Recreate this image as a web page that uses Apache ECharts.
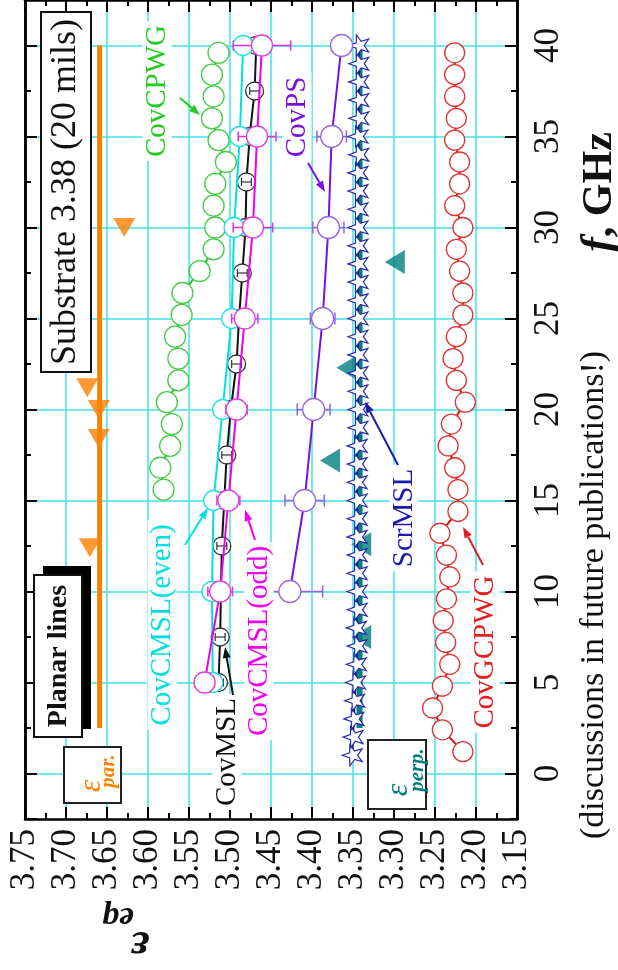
<!DOCTYPE html>
<html>
<head>
<meta charset="utf-8">
<script src="https://cdn.jsdelivr.net/npm/echarts@6/dist/echarts.min.js"></script>
<style>
  html, body { margin: 0; padding: 0; background: #fff; }
  #chart { width: 618px; height: 970px; }
</style>
</head>
<body>
<div id="chart"></div>
<script>
var FONT = '"Liberation Serif", "Times New Roman", serif';
var GRID = '#3fe2e8';

// 坐标范围
var epsRange = [3.15, 3.75];
var fRange = [-2.5, 42.5];

// eps_par (橙色)
var parLineF = [2.5, 40];
var parLineEps = [3.659, 3.659];
var parTriF = [12.4, 18.4, 20.0, 21.2, 30.0];
var parTriEps = [3.671, 3.660, 3.660, 3.674, 3.629];

// eps_perp (青绿色)
var perpLineF = [2.5, 40];
var perpLineEps = [3.342, 3.342];
var perpTriF = [7.5, 12.6, 17.2, 22.3, 28.1];
var perpTriEps = [3.340, 3.340, 3.378, 3.358, 3.299];

// ScrMSL
var scrF = [1, 2, 3, 4, 5, 6, 7, 8, 9, 10, 11, 12, 13, 14, 15, 16, 17, 18, 19, 20,
            21, 22, 23, 24, 25, 26, 27, 28, 29, 30, 31, 32, 33, 34, 35, 36, 37, 38, 39, 40];
var scrEps = [3.351, 3.350, 3.349, 3.348, 3.347, 3.346, 3.345, 3.346, 3.345, 3.345,
              3.345, 3.345, 3.345, 3.345, 3.345, 3.345, 3.345, 3.345, 3.344, 3.344,
              3.344, 3.344, 3.344, 3.344, 3.344, 3.344, 3.344, 3.344, 3.344, 3.344,
              3.344, 3.344, 3.344, 3.343, 3.344, 3.343, 3.343, 3.343, 3.343, 3.343];

// CovGCPWG (红)
var gcpwgF = [1.2, 2.4, 3.6, 4.8, 6.0, 7.2, 8.4, 9.6, 10.8, 12.0, 13.2, 14.4, 15.6, 16.8, 18.0, 19.2, 20.4,
              21.6, 22.8, 24.0, 25.2, 26.4, 27.6, 28.8, 30.0, 31.2, 32.4, 33.6, 34.8, 36.0, 37.2, 38.4, 39.6];
var gcpwgEps = [3.216, 3.241, 3.253, 3.241, 3.232, 3.237, 3.240, 3.236, 3.232, 3.236, 3.244, 3.222, 3.222,
                3.226, 3.234, 3.230, 3.213, 3.224, 3.228, 3.224, 3.216, 3.216, 3.220, 3.224, 3.216, 3.226,
                3.220, 3.220, 3.226, 3.224, 3.226, 3.226, 3.226];

// CovCPWG (绿)
var cpwgF = [15.6, 16.8, 18.0, 19.2, 20.4, 21.6, 22.8, 24.0, 25.2, 26.4, 27.6,
             28.8, 30.0, 31.2, 32.4, 33.6, 34.8, 36.0, 37.2, 38.4, 39.6];
var cpwgEps = [3.581, 3.585, 3.573, 3.571, 3.577, 3.563, 3.563, 3.567, 3.559, 3.558, 3.537,
               3.520, 3.518, 3.520, 3.518, 3.505, 3.514, 3.522, 3.520, 3.522, 3.514];

// CovMSL (黑)
var mslF = [5, 7.5, 10, 12.5, 15, 17.5, 20, 22.5, 25, 27.5, 30, 32.5, 35, 37.5, 40];
var mslEps = [3.514, 3.512, 3.511, 3.510, 3.507, 3.504, 3.499, 3.492, 3.489, 3.485, 3.481, 3.480, 3.476, 3.470, 3.468];
var mslErr = [0.006, 0.006, 0.006, 0.006, 0.006, 0.006, 0.006, 0.006, 0.006, 0.006, 0.006, 0.006, 0.006, 0.006, 0.006];

// CovCMSL(even) / CovCMSL(odd)
var cmslF = [5, 10, 15, 20, 25, 30, 35, 40];
var evenEps = [3.521, 3.522, 3.520, 3.509, 3.498, 3.495, 3.488, 3.484];
var oddEps = [3.531, 3.512, 3.502, 3.492, 3.482, 3.472, 3.467, 3.461];
var oddErr = [0.012, 0.015, 0.014, 0.013, 0.016, 0.024, 0.023, 0.035];

// CovPS (紫)
var psF = [10, 15, 20, 25, 30, 35, 40];
var psEps = [3.427, 3.409, 3.398, 3.387, 3.380, 3.376, 3.364];
var psErr = [0.040, 0.024, 0.020, 0.015, 0.019, 0.018, 0.012];

function pairs(xs, ys) {
    return xs.map(function (x, i) { return [x, ys[i]]; });
}

// 五角星路径
var starPath = (function () {
    var pts = [];
    for (var i = 0; i < 10; i++) {
        var r = i % 2 === 0 ? 1 : 0.4;
        var a = -Math.PI / 2 + i * Math.PI / 5;
        pts.push((r * Math.cos(a)).toFixed(3) + ',' + (r * Math.sin(a)).toFixed(3));
    }
    return 'path://M' + pts.join(' L') + ' Z';
})();

// 水平误差线
function errSeries(eps, err, f, color, z, cap, width) {
    return {
        type: 'custom',
        z: z,
        silent: true,
        data: f.map(function (v, i) { return [eps[i] - err[i], eps[i] + err[i], v]; }),
        encode: { x: [0, 1], y: 2 },
        renderItem: function (params, api) {
            var a = api.coord([api.value(0), api.value(2)]);
            var b = api.coord([api.value(1), api.value(2)]);
            var st = { stroke: color, lineWidth: width };
            return {
                type: 'group',
                children: [
                    { type: 'line', shape: { x1: a[0], y1: a[1], x2: b[0], y2: b[1] }, style: st },
                    { type: 'line', shape: { x1: a[0], y1: a[1] - cap, x2: a[0], y2: a[1] + cap }, style: st },
                    { type: 'line', shape: { x1: b[0], y1: b[1] - cap, x2: b[0], y2: b[1] + cap }, style: st }
                ]
            };
        }
    };
}

function lineSeries(name, xs, ys, color, border, size, width, z) {
    return {
        name: name,
        type: 'line',
        z: z,
        data: pairs(xs, ys),
        symbol: 'circle',
        symbolSize: size,
        showSymbol: true,
        lineStyle: { color: color, width: width },
        itemStyle: { color: '#fff', borderColor: border, borderWidth: 1.3 },
        animation: false
    };
}

// 旋转文字
function vtext(x, y, str, size, color, opt) {
    opt = opt || {};
    return {
        type: 'text', x: x, y: y, z: 100,
        rotation: opt.rot == null ? Math.PI / 2 : opt.rot,
        style: {
            text: str, fill: color, fontFamily: FONT, fontSize: size,
            fontWeight: opt.bold ? 'bold' : 'normal',
            fontStyle: opt.italic ? 'italic' : 'normal',
            align: 'center', verticalAlign: 'middle',
            backgroundColor: opt.bg, padding: opt.bg ? [0, 4] : 0
        }
    };
}

function arrow(x1, y1, x2, y2, color) {
    var ang = Math.atan2(y2 - y1, x2 - x1), L = 11, W = 4;
    var bx = x2 - L * Math.cos(ang), by = y2 - L * Math.sin(ang);
    return [
        { type: 'line', z: 101, shape: { x1: x1, y1: y1, x2: bx, y2: by }, style: { stroke: color, lineWidth: 2 } },
        { type: 'polygon', z: 101, shape: { points: [[x2, y2],
            [bx - W * Math.sin(ang), by + W * Math.cos(ang)],
            [bx + W * Math.sin(ang), by - W * Math.cos(ang)]] }, style: { fill: color } }
    ];
}

function box(x, y, w, h, fill, stroke) {
    return { type: 'rect', z: 99, shape: { x: x, y: y, width: w, height: h },
             style: { fill: fill, stroke: stroke, lineWidth: stroke ? 2 : 0 } };
}

var axisLineStyle = { color: '#000', width: 2.5 };
var tickStyle = { color: '#000', width: 2 };

function yAxisDef(pos, major, labels) {
    var a = {
        type: 'value', position: pos, min: fRange[0], max: fRange[1],
        axisLine: { show: true, onZero: false, lineStyle: axisLineStyle },
        axisTick: { show: true, inside: true, length: major ? 12 : 6, lineStyle: tickStyle },
        axisLabel: { show: false },
        splitLine: { show: false }
    };
    if (major) { a.splitNumber = 9; } else { a.interval = 2.5; }
    if (labels) {
        a.axisLabel = {
            show: true, rotate: 90, fontSize: 35, fontFamily: FONT, color: '#111', margin: 14,
            showMinLabel: false, showMaxLabel: false,
            formatter: function (v) { return v % 5 === 0 ? String(v) : ''; }
        };
        a.splitLine = { show: true, showMinLine: false, showMaxLine: false, lineStyle: { color: GRID, width: 1.5 } };
    }
    return a;
}

function xAxisDef(pos, labels) {
    return {
        type: 'value', position: pos, inverse: true,
        min: epsRange[0], max: epsRange[1], interval: 0.05,
        axisLine: { show: true, onZero: false, lineStyle: axisLineStyle },
        axisTick: { show: true, inside: true, length: 12, lineStyle: tickStyle },
        minorTick: { show: true, splitNumber: 2, length: 6, lineStyle: tickStyle },
        axisLabel: labels ? {
            show: true, rotate: 90, fontSize: 35, fontFamily: FONT, color: '#111', margin: 10,
            formatter: function (v) { return v.toFixed(2); }
        } : { show: false },
        splitLine: { show: labels, lineStyle: { color: GRID, width: 1.5 } }
    };
}

var graphics = [
    box(41, 12, 50, 360, '#fff', '#111'),
    vtext(66, 192, 'Substrate 3.38 (20 mils)', 36, '#111'),
    box(43, 566, 48, 163, '#000', null),
    box(34, 575, 48, 162, '#fff', '#111'),
    vtext(59, 656, 'Planar lines', 28, '#111', { bold: true }),
    box(64, 747, 57, 56, '#fff', '#222'),
    vtext(92, 786, 'ε', 32, '#ff8000', { italic: true }),
    vtext(109, 771, 'par.', 21, '#ff8000', { italic: true, bold: true }),
    box(368, 740, 58, 69, '#fff', '#222'),
    vtext(399, 790, 'ε', 32, '#007f7f', { italic: true }),
    vtext(418, 770, 'perp.', 21, '#007f7f', { italic: true, bold: true }),

    vtext(157, 91, 'CovCPWG', 29, '#22cc22', { bg: '#fff' }),
    vtext(297, 117, 'CovPS', 29, '#7a10e0', { bg: '#fff' }),
    vtext(162, 625, 'CovCMSL(even)', 29, '#00e0e0', { bg: '#fff' }),
    vtext(259, 641, 'CovCMSL(odd)', 29, '#ee00ee', { bg: '#fff' }),
    vtext(227, 752, 'CovMSL', 29, '#111', { bg: '#fff' }),
    vtext(404, 518, 'ScrMSL', 29, '#1a1aaa', { bg: '#fff' }),
    vtext(485, 652, 'CovGCPWG', 29, '#e02020', { bg: '#fff' }),

    vtext(140, 944, 'ε', 46, '#111', { rot: Math.PI, bold: true, italic: true }),
    vtext(118, 917, 'eq', 34, '#111', { rot: Math.PI, bold: true, italic: true }),
    vtext(594, 595, '(discussions in future publications!)', 34, '#111'),
    {
        type: 'text', x: 600, y: 192, z: 100, rotation: Math.PI / 2,
        style: {
            text: '{i|f}{n|, GHz}', align: 'center', verticalAlign: 'middle',
            rich: {
                i: { fontFamily: FONT, fontSize: 44, fontWeight: 'bold', fontStyle: 'italic', fill: '#111' },
                n: { fontFamily: FONT, fontSize: 42, fontWeight: 'bold', fill: '#111' }
            }
        }
    }
];
graphics = graphics
    .concat(arrow(180, 98, 200, 115, '#22cc22'))
    .concat(arrow(308, 163, 325, 192, '#7a10e0'))
    .concat(arrow(185, 545, 208, 508, '#00e0e0'))
    .concat(arrow(255, 540, 245, 510, '#ee00ee'))
    .concat(arrow(233, 695, 225, 647, '#111'))
    .concat(arrow(398, 465, 365, 402, '#1a1aaa'))
    .concat(arrow(483, 565, 463, 527, '#e02020'));

var myChart = echarts.init(document.getElementById('chart'));
var option = {
    animation: false,
    grid: { left: 25, right: 101, top: -2, bottom: 151 },
    xAxis: [xAxisDef('bottom', true), xAxisDef('top', false)],
    yAxis: [yAxisDef('right', true, true), yAxisDef('left', true, false),
            yAxisDef('right', false, false), yAxisDef('left', false, false)],
    graphic: { elements: graphics },
    series: [
        {   // eps_par 线
            type: 'line', z: 2, data: pairs(parLineEps, parLineF), symbol: 'none',
            lineStyle: { color: '#ff8000', width: 5 }
        },
        {
            type: 'scatter', z: 3, data: pairs(parTriEps, parTriF), symbol: 'triangle',
            symbolRotate: 180, symbolSize: [22, 19], itemStyle: { color: '#ff8000' }
        },
        {   // eps_perp 线
            type: 'line', z: 2, data: pairs(perpLineEps, perpLineF), symbol: 'none',
            lineStyle: { color: '#007f7f', width: 6 }
        },
        {
            type: 'scatter', z: 3, data: pairs(perpTriEps, perpTriF), symbol: 'triangle',
            symbolRotate: 90, symbolSize: [24, 20], itemStyle: { color: '#007f7f' }
        },
        {
            name: 'ScrMSL', type: 'line', z: 6, data: pairs(scrEps, scrF),
            symbol: starPath, symbolRotate: 90, symbolSize: 21, symbolKeepAspect: true,
            lineStyle: { color: '#0a0a8c', width: 2 },
            itemStyle: { color: '#fff', borderColor: '#2b2ba8', borderWidth: 1.2 }
        },
        lineSeries('CovCPWG', cpwgEps, cpwgF, '#22bb22', '#44cc44', 21, 2, 3),
        lineSeries('CovGCPWG', gcpwgEps, gcpwgF, '#dd1111', '#dd3333', 20, 2, 3),
        lineSeries('CovMSL', mslEps, mslF, '#111', '#333', 18, 2, 3),
        errSeries(mslEps, mslErr, mslF, '#333', 4, 4, 1.2),
        lineSeries('CovCMSL(even)', evenEps, cmslF, '#00e0e0', '#22e0e0', 20, 2, 5),
        errSeries(oddEps, oddErr, cmslF, '#e030e0', 6, 5, 1.5),
        lineSeries('CovCMSL(odd)', oddEps, cmslF, '#ee00ee', '#e040e0', 21, 2, 7),
        errSeries(psEps, psErr, psF, '#9a60e0', 6, 6, 1.5),
        lineSeries('CovPS', psEps, psF, '#7a10e0', '#9a66e0', 22, 2, 7)
    ]
};
myChart.setOption(option);
window.addEventListener('resize', function () {
    myChart.resize();
});
</script>
</body>
</html>
